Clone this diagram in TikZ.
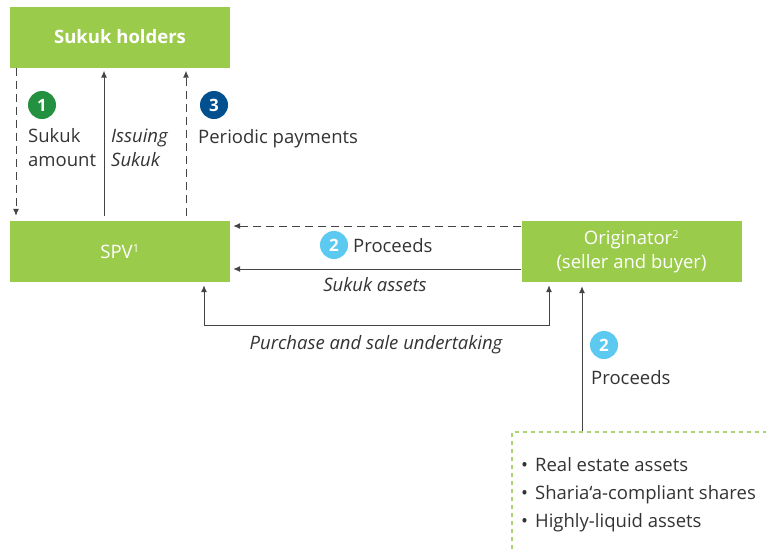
\documentclass[tikz,border=0pt]{standalone}
\usepackage{fontspec}
\setmainfont{Open Sans}
\usetikzlibrary{arrows.meta,calc}
\definecolor{boxgreen}{HTML}{9BCB4B}
\definecolor{dashgreen}{HTML}{A9D46E}
\definecolor{txt}{HTML}{333333}
\definecolor{ln}{HTML}{444444}
\definecolor{cgreen}{HTML}{23913F}
\definecolor{cblue}{HTML}{00508F}
\definecolor{clight}{HTML}{5BC9F0}
\newcommand{\fs}{\fontsize{18.5}{24}\selectfont}
\newcommand{\bul}{\textbullet\hspace{7pt}}
\tikzset{
  gbox/.style={fill=boxgreen,text=white,minimum width=220pt,minimum height=61pt,inner sep=0pt,align=center,font=\fs},
  conn/.style={draw=ln,line width=1pt,-{Latex[length=7pt,width=6pt]}},
  dsh/.style={dash pattern=on 8pt off 5pt},
  lbl/.style={text=txt,font=\fs,inner sep=0pt,align=left},
  num/.style={circle,fill=#1,text=white,minimum size=28pt,inner sep=0pt,font=\fontsize{17}{17}\selectfont\bfseries}
}
\begin{document}
\begin{tikzpicture}[x=1pt,y=-1pt]
\useasboundingbox (0,0) rectangle (766,549);
% boxes
\node[gbox,font=\fs\bfseries] (holders) at (120,37) {Sukuk holders};
\node[gbox] (spv) at (120,251.5) {SPV\textsuperscript{\fontsize{11}{11}\selectfont 1}};
\node[gbox] (orig) at (631.5,251.5) {Originator\textsuperscript{\fontsize{11}{11}\selectfont 2}\\(seller and buyer)};
% helper coordinates
\coordinate (x1) at (16,0);
\coordinate (x2) at (104,0);
\coordinate (x3) at (186,0);
\coordinate (y1) at (0,226);
\coordinate (y2) at (0,269);
\coordinate (yp) at (0,325);
\coordinate (xl) at (204,0);
\coordinate (xr) at (549,0);
\coordinate (xo) at (582,0);
\coordinate (assetstop) at (582,432);
% vertical arrows
\draw[conn,dsh,shorten >=5pt] (holders.south -| x1) -- (spv.north -| x1);
\draw[conn,shorten <=5pt,shorten >=3pt] (spv.north -| x2) -- (holders.south -| x2);
\draw[conn,dsh,shorten <=5pt,shorten >=3pt] (spv.north -| x3) -- (holders.south -| x3);
% horizontal arrows
\draw[conn,dsh,shorten >=3pt] (orig.west |- y1) -- (spv.east |- y1);
\draw[conn,shorten >=3pt] (orig.west |- y2) -- (spv.east |- y2);
% purchase and sale undertaking
\draw[conn,{Latex[length=7pt,width=6pt]}-{Latex[length=7pt,width=6pt]},shorten <=3pt,shorten >=3pt] (spv.south -| xl) -- (xl |- yp) -- (xr |- yp) -- (orig.south -| xr);
% proceeds from assets
\draw[conn,shorten >=4pt] (assetstop) -- (orig.south -| xo);
% assets dashed frame
\draw[dashgreen,line width=1.5pt,dash pattern=on 4pt off 4pt] (512,549) -- (512,432) -- (766,432);
% numbers
\node[num=cgreen] (n1) at (42,105) {1};
\node[num=cblue] (n3) at (214,105) {3};
\node[num=clight] (n2a) at (334,245) {2};
\node[num=clight] (n2b) at (604,345) {2};
% labels (multi-line nodes: base = last line)
\node[lbl,anchor=base west] (l1) at (28,166) {Sukuk\\amount};
\node[lbl,anchor=base west,font=\fs\itshape] (l2) at (111,166) {Issuing\\Sukuk};
\node[lbl,anchor=base west] (l3) at (198,143) {Periodic payments};
\node[lbl,anchor=base west] (l4) at (353,252) {Proceeds};
\node[lbl,anchor=base,font=\fs\itshape] (l5) at (375,291) {Sukuk assets};
\node[lbl,anchor=base,font=\fs\itshape] (l6) at (376,349) {Purchase and sale undertaking};
\node[lbl,anchor=base west] (l7) at (591,384) {Proceeds};
\node[lbl,anchor=base west,font=\fontsize{18.5}{28}\selectfont] (l8) at (521,527) {\bul Real estate assets\\\bul Sharia‘a-compliant shares\\\bul Highly-liquid assets};
\end{tikzpicture}
\end{document}
